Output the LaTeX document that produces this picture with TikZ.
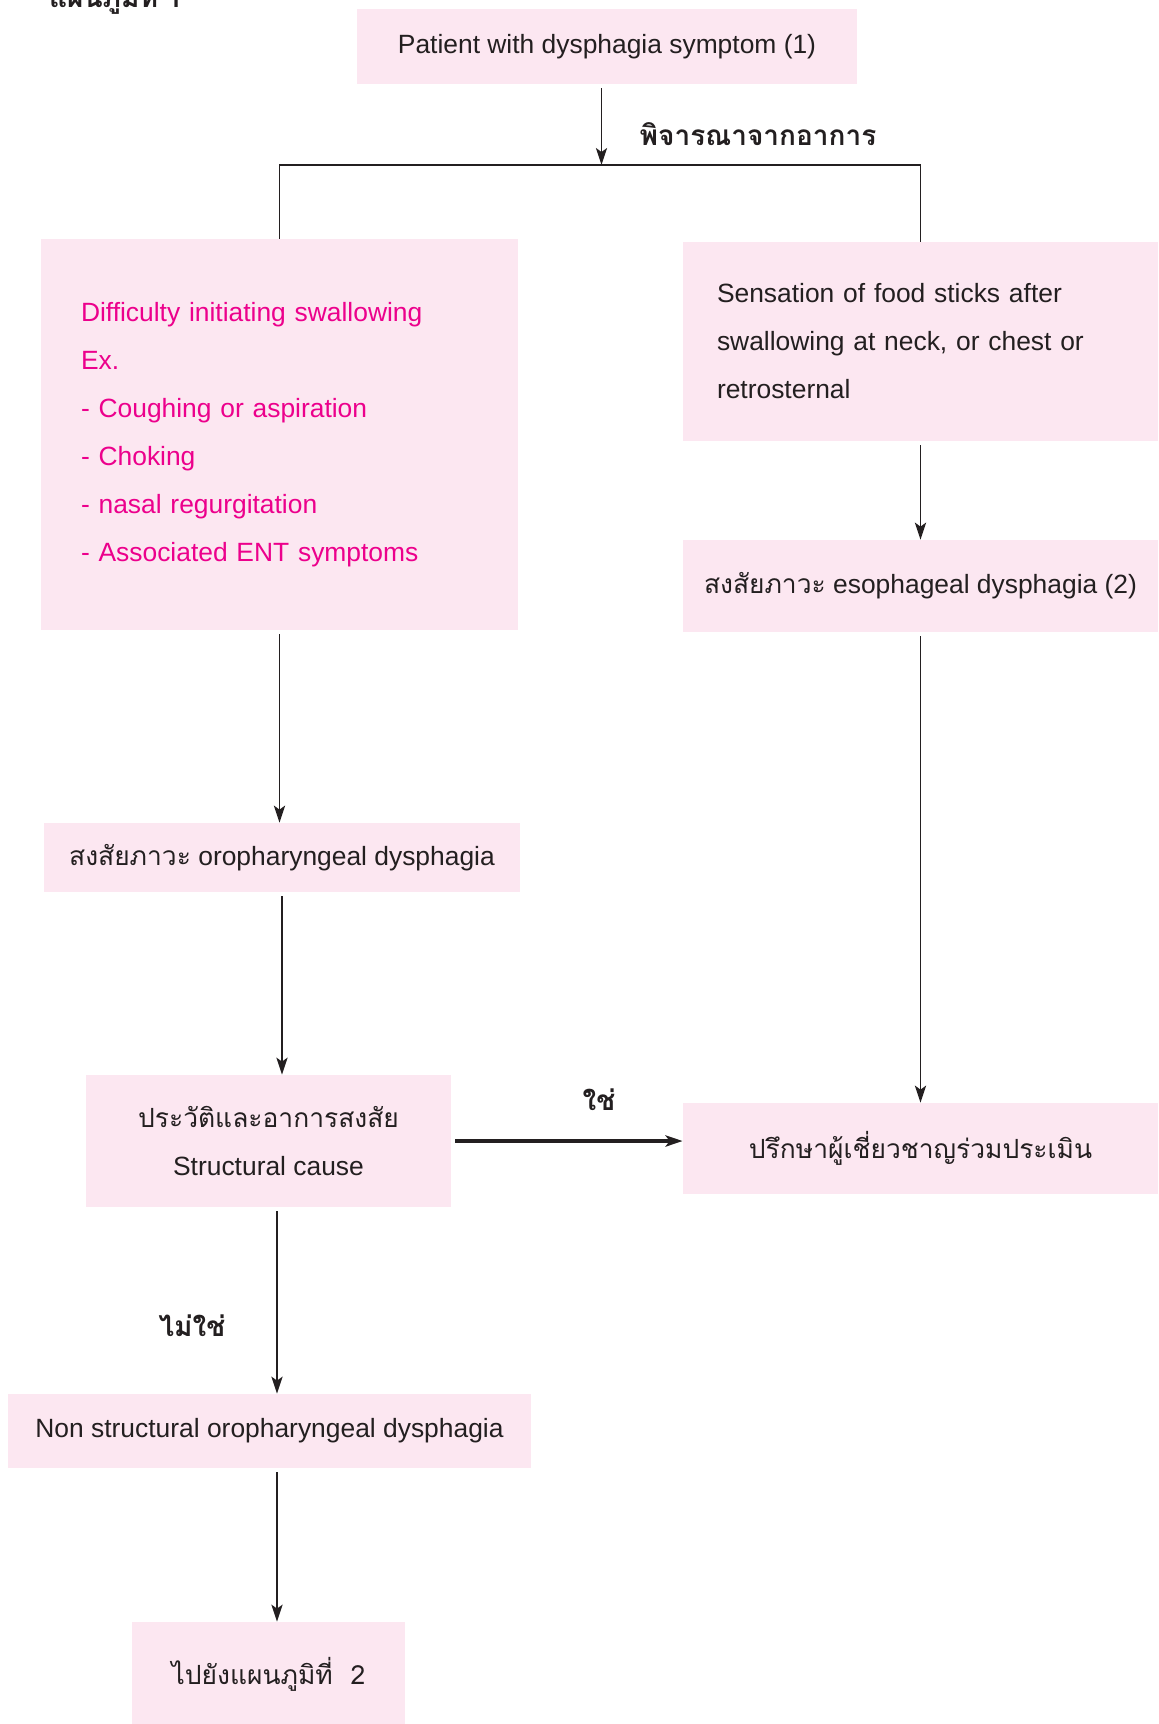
\documentclass[tikz,border=0pt]{standalone}
\usepackage{fontspec}
\setmainfont{Liberation Sans}
\newfontfamily\thaifont[Script=Thai]{Loma}
\usetikzlibrary{arrows.meta}
\definecolor{boxpink}{RGB}{252,231,241}
\definecolor{ink}{RGB}{35,31,32}
\definecolor{magentatext}{RGB}{236,0,140}

\begin{document}
\begin{tikzpicture}[x=0.5pt, y=-0.5pt,
    box/.style ={fill=boxpink, inner sep=0pt, text=ink, align=center, font=\fontsize{13.2}{24}\selectfont},
    flow/.style ={-{Stealth[length=8.5pt, width=5.6pt, inset=2pt]}, line width=0.85pt, draw=ink, shorten <=2pt},
    answer/.style ={text=ink, font=\thaifont\bfseries\fontsize{14}{16}\selectfont}]
   \useasboundingbox (0,0) rectangle (1158,1724);

   \node[answer, anchor=base west] (title) at (42,8) {แผนภูมิที่ 1};
   \node[box, minimum width=250pt, minimum height=37.5pt] (patient) at (607,46.5) {Patient with dysphagia symptom (1)};
   \coordinate (split) at (601.5,165);
   \node[answer] (consider) at (758,134) {พิจารณาจากอาการ};

   \node[box, text=magentatext, align=left, text width=198.5pt, inner xsep=20pt, minimum height=195.5pt] (initiate) at (279.5,434.5)
     {Difficulty initiating swallowing\\ Ex.\\ - Coughing or aspiration\\ - Choking\\ - nasal regurgitation\\ - Associated ENT symptoms};
   \node[box, align=left, text width=203.5pt, inner xsep=17pt, minimum height=99.5pt] (sticks) at (920.5,341.5)
     {Sensation of food sticks after\\ swallowing at neck, or chest or\\ retrosternal};
   \node[box, minimum width=237.5pt, minimum height=46pt] (esophageal) at (920.5,586) {{\thaifont สงสัยภาวะ} esophageal dysphagia (2)};
   \node[box, minimum width=238pt, minimum height=34.5pt] (oropharyngeal) at (282,857.5) {{\thaifont สงสัยภาวะ} oropharyngeal dysphagia};
   \node[box, minimum width=182.5pt, minimum height=66pt] (structural) at (268.5,1141) {{\thaifont ประวัติและอาการสงสัย}\\ Structural cause};
   \node[box, minimum width=237.5pt, minimum height=45.5pt] (consult) at (920.5,1148.5) {\thaifont ปรึกษาผู้เชี่ยวชาญร่วมประเมิน};
   \node[box, minimum width=261.5pt, minimum height=37pt] (nonstructural) at (269.5,1431) {Non structural oropharyngeal dysphagia};
   \node[box, minimum width=136.5pt, minimum height=52pt] (chart) at (268.5,1674) {\thaifont ไปยังแผนภูมิที่~ 2};
   \coordinate (stem) at (277,0);
   \node[answer] (yes) at (599,1100) {ใช่};
   \node[answer] (no) at (192,1326) {ไม่ใช่};

   % connectors
   \draw[flow] (patient.south -| split) -- (split);
   \draw[line width=0.85pt, draw=ink] (initiate.north) |- (split) -| (sticks.north);
   \draw[flow] (sticks.south) -- (esophageal.north);
   \draw[flow] (esophageal.south) -- (consult.north);
   \draw[flow] (initiate.south) -- (initiate.south |- oropharyngeal.north);
   \draw[flow] (oropharyngeal.south) -- (oropharyngeal.south |- structural.north);
   \draw[flow, line width=1.6pt] (structural.east) -- (structural.east -| consult.west);
   \draw[flow] (structural.south -| stem) -- (nonstructural.north -| stem);
   \draw[flow] (nonstructural.south -| stem) -- (chart.north -| stem);
 \end{tikzpicture}
\end{document}
